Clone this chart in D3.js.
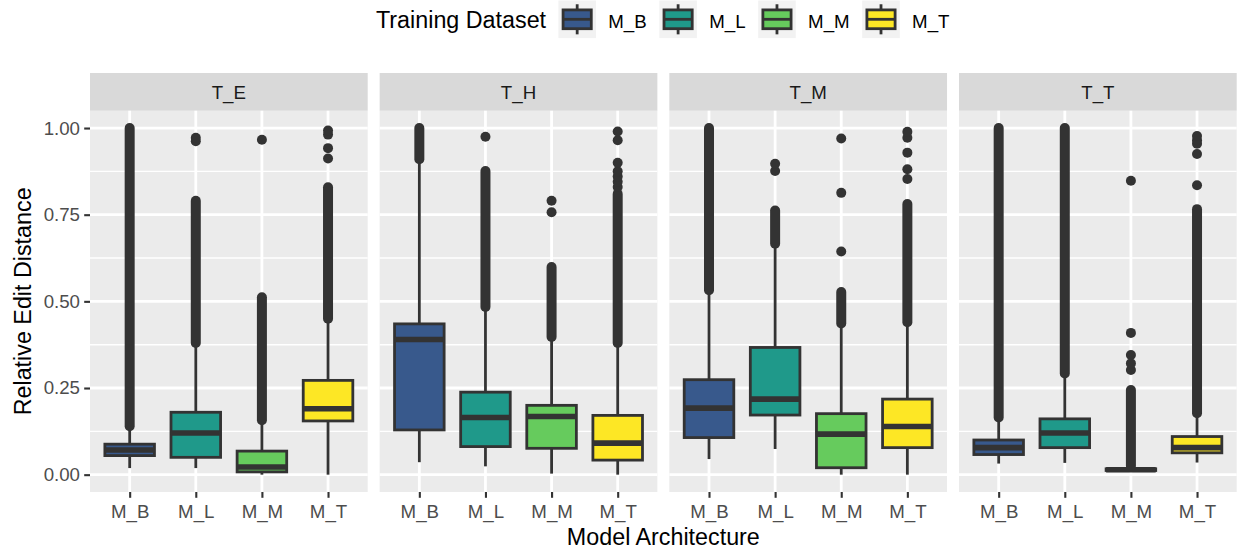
<!DOCTYPE html>
<html>
<head>
<meta charset="utf-8">
<script src="https://cdn.jsdelivr.net/npm/d3@7"></script>
<style>
  html, body { margin: 0; padding: 0; background: #ffffff; }
  svg { display: block; font-family: "Liberation Sans", Arial, Helvetica, sans-serif; }
</style>
</head>
<body>
<svg id="chart" width="1238" height="550"></svg>
<script>
// Test sets (facets) and model architectures (x categories / fill groups)
const facets = ["T_E", "T_H", "T_M", "T_T"];
const models = ["M_B", "M_L", "M_M", "M_T"];
const fillColors = ["#38598C", "#1F998A", "#66CB5D", "#FDE725"];
const yTicks = [0, 0.25, 0.5, 0.75, 1.0];
const yTickLabels = ["0.00", "0.25", "0.50", "0.75", "1.00"];

// Box statistics, one row per facet, columns follow `models`
const whiskerLow = [
  [0.019, 0.019, 0.000, 0.000],
  [0.036, 0.024, 0.003, 0.000],
  [0.045, 0.074, 0.000, 0.000],
  [0.032, 0.034, 0.008, 0.035]
];
const q1 = [
  [0.055, 0.050, 0.008, 0.155],
  [0.129, 0.081, 0.076, 0.042],
  [0.107, 0.172, 0.020, 0.078],
  [0.058, 0.078, 0.012, 0.063]
];
const median = [
  [0.071, 0.120, 0.022, 0.190],
  [0.390, 0.165, 0.168, 0.091],
  [0.192, 0.218, 0.117, 0.139],
  [0.078, 0.120, 0.014, 0.078]
];
const q3 = [
  [0.088, 0.180, 0.068, 0.272],
  [0.435, 0.238, 0.200, 0.171],
  [0.274, 0.367, 0.176, 0.218],
  [0.100, 0.161, 0.017, 0.110]
];
const whiskerHigh = [
  [0.130, 0.374, 0.153, 0.440],
  [0.900, 0.474, 0.388, 0.369],
  [0.522, 0.656, 0.426, 0.431],
  [0.158, 0.282, 0.022, 0.168]
];
// Runs of densely packed outliers: [from, to]
const outlierRuns = [
  [[0.140, 1.000], [0.380, 0.790], [0.157, 0.512], [0.450, 0.829]],
  [[0.910, 1.000], [0.484, 0.876], [0.397, 0.599], [0.380, 0.810]],
  [[0.532, 1.000], [0.666, 0.762], [0.436, 0.527], [0.440, 0.781]],
  [[0.165, 1.000], [0.292, 1.000], [0.025, 0.244], [0.177, 0.766]]
];
// Isolated outliers
const outlierPoints = [
  [[], [0.962, 0.972], [0.966], [0.912, 0.942, 0.981, 0.993]],
  [[], [0.975], [0.757, 0.790], [0.830, 0.845, 0.860, 0.875, 0.900, 0.965, 0.990]],
  [[], [0.876, 0.897], [0.644, 0.813, 0.970], [0.853, 0.881, 0.929, 0.972, 0.989]],
  [[], [], [0.302, 0.321, 0.345, 0.409, 0.848], [0.835, 0.925, 0.955, 0.965, 0.977]]
];

const svg = d3.select("#chart");
const W = 1238;

// Panel geometry
const panelLeft = 90, panelRight = 1236.7, panelGap = 11.97;
const panelW = (panelRight - panelLeft - 3 * panelGap) / 4;
const stripTop = 73, stripBottom = 110.7;
const panelTop = 110.7, panelBottom = 492;

const tickFont = 18.7, titleFont = 23.3;
const ink = "#333333";

const y = d3.scaleLinear().domain([-0.05, 1.05]).range([panelBottom, panelTop]);
const minorY = [0.125, 0.375, 0.625, 0.875];

svg.append("rect").attr("width", W).attr("height", 550).attr("fill", "#ffffff");

facets.forEach((facet, fi) => {
  const x0 = panelLeft + fi * (panelW + panelGap);
  const x = d3.scalePoint().domain(models).range([x0, x0 + panelW]).padding(0.6);
  const step = x.step();
  const boxW = step * 0.75;

  const g = svg.append("g");

  // panel background
  g.append("rect").attr("x", x0).attr("y", panelTop)
    .attr("width", panelW).attr("height", panelBottom - panelTop).attr("fill", "#EBEBEB");

  // strip
  g.append("rect").attr("x", x0).attr("y", stripTop)
    .attr("width", panelW).attr("height", stripBottom - stripTop).attr("fill", "#D9D9D9");
  g.append("text").attr("x", x0 + panelW / 2).attr("y", (stripTop + stripBottom) / 2)
    .attr("dy", "0.36em").attr("text-anchor", "middle")
    .attr("font-size", tickFont).attr("fill", "#1A1A1A").text(facet);

  // grid lines
  g.selectAll(".minor").data(minorY).join("line")
    .attr("x1", x0).attr("x2", x0 + panelW)
    .attr("y1", d => y(d)).attr("y2", d => y(d))
    .attr("stroke", "#ffffff").attr("stroke-width", 1.4);
  g.selectAll(".majorY").data(yTicks).join("line")
    .attr("x1", x0).attr("x2", x0 + panelW)
    .attr("y1", d => y(d)).attr("y2", d => y(d))
    .attr("stroke", "#ffffff").attr("stroke-width", 2.8);
  g.selectAll(".majorX").data(models).join("line")
    .attr("x1", d => x(d)).attr("x2", d => x(d))
    .attr("y1", panelTop).attr("y2", panelBottom)
    .attr("stroke", "#ffffff").attr("stroke-width", 2.8);

  // boxplots
  models.forEach((m, mi) => {
    const cx = x(m);
    const bg = g.append("g");
    // outliers
    const [rLo, rHi] = outlierRuns[fi][mi];
    bg.append("line")
      .attr("x1", cx).attr("x2", cx).attr("y1", y(rLo)).attr("y2", y(rHi))
      .attr("stroke", ink).attr("stroke-width", 10).attr("stroke-linecap", "round");
    bg.selectAll("circle").data(outlierPoints[fi][mi]).join("circle")
      .attr("cx", cx).attr("cy", d => y(d)).attr("r", 5).attr("fill", ink);
    // whiskers
    bg.append("line").attr("x1", cx).attr("x2", cx)
      .attr("y1", y(q3[fi][mi])).attr("y2", y(whiskerHigh[fi][mi]))
      .attr("stroke", ink).attr("stroke-width", 2.8);
    bg.append("line").attr("x1", cx).attr("x2", cx)
      .attr("y1", y(q1[fi][mi])).attr("y2", y(whiskerLow[fi][mi]))
      .attr("stroke", ink).attr("stroke-width", 2.8);
    // box
    bg.append("rect")
      .attr("x", cx - boxW / 2).attr("width", boxW)
      .attr("y", y(q3[fi][mi])).attr("height", Math.max(0, y(q1[fi][mi]) - y(q3[fi][mi])))
      .attr("fill", fillColors[mi]).attr("stroke", ink).attr("stroke-width", 2.8);
    // median
    bg.append("line")
      .attr("x1", cx - boxW / 2).attr("x2", cx + boxW / 2)
      .attr("y1", y(median[fi][mi])).attr("y2", y(median[fi][mi]))
      .attr("stroke", ink).attr("stroke-width", 5.6);
  });

  // x axis
  const xAxis = d3.axisBottom(x).tickSize(5.8).tickPadding(7.3);
  const xg = svg.append("g").attr("transform", `translate(0,${panelBottom})`).call(xAxis);
  xg.select(".domain").remove();
  xg.selectAll(".tick line").attr("stroke", ink).attr("stroke-width", 2.1);
  xg.selectAll(".tick text").attr("fill", "#4D4D4D").attr("font-size", tickFont)
    .attr("font-family", "Liberation Sans, Arial, sans-serif");

  // y axis on the first panel only
  if (fi === 0) {
    const yAxis = d3.axisLeft(y).tickValues(yTicks)
      .tickFormat((d, i) => yTickLabels[i]).tickSize(5.8).tickPadding(4.2);
    const yg = svg.append("g").attr("transform", `translate(${x0},0)`).call(yAxis);
    yg.select(".domain").remove();
    yg.selectAll(".tick line").attr("stroke", ink).attr("stroke-width", 2.1);
    yg.selectAll(".tick text").attr("fill", "#4D4D4D").attr("font-size", tickFont)
      .attr("font-family", "Liberation Sans, Arial, sans-serif");
  }
});

// axis titles
svg.append("text")
  .attr("x", (panelLeft + panelRight) / 2).attr("y", 545)
  .attr("text-anchor", "middle").attr("font-size", titleFont).attr("fill", "#000000")
  .text("Model Architecture");
svg.append("text")
  .attr("transform", `translate(30.7,${(panelTop + panelBottom) / 2}) rotate(-90)`)
  .attr("text-anchor", "middle").attr("font-size", titleFont).attr("fill", "#000000")
  .text("Relative Edit Distance");

// legend
const legend = svg.append("g");
const keySize = 37.6, keyTop = 0.5, legendBase = 27.5;
const title = legend.append("text").attr("x", 376).attr("y", legendBase)
  .attr("font-size", titleFont).attr("fill", "#000000").text("Training Dataset");
let cursor = 376 + title.node().getComputedTextLength() + 12.3;
models.forEach((m, i) => {
  const k = legend.append("g").attr("transform", `translate(${cursor},${keyTop})`);
  k.append("rect").attr("width", keySize).attr("height", keySize).attr("fill", "#F2F2F2");
  k.append("line").attr("x1", keySize / 2).attr("x2", keySize / 2)
    .attr("y1", keySize * 0.1).attr("y2", keySize * 0.9)
    .attr("stroke", ink).attr("stroke-width", 2.8);
  k.append("rect").attr("x", keySize * 0.125).attr("y", keySize * 0.25)
    .attr("width", keySize * 0.75).attr("height", keySize * 0.5)
    .attr("fill", fillColors[i]).attr("stroke", ink).attr("stroke-width", 2.8);
  k.append("line").attr("x1", keySize * 0.125).attr("x2", keySize * 0.875)
    .attr("y1", keySize / 2).attr("y2", keySize / 2)
    .attr("stroke", ink).attr("stroke-width", 2.8);
  const lbl = legend.append("text").attr("x", cursor + keySize + 12.3).attr("y", legendBase)
    .attr("font-size", tickFont).attr("fill", "#000000").text(m);
  cursor = cursor + keySize + 12.3 + lbl.node().getComputedTextLength() + 12.6;
});
</script>
</body>
</html>
